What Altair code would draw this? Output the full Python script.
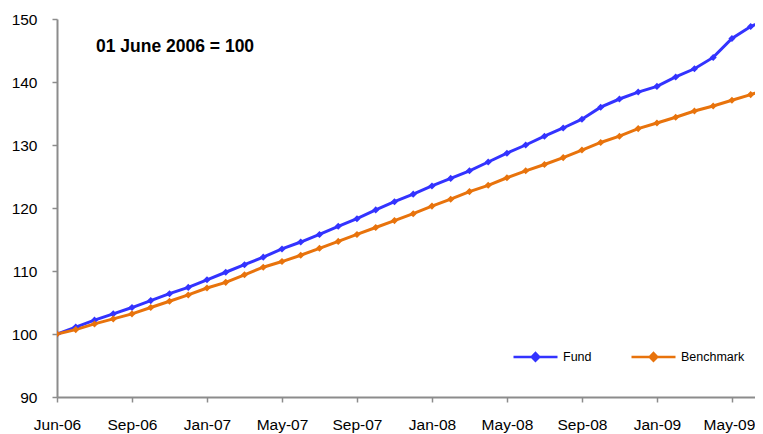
import altair as alt
import pandas as pd

# monthly index points (0 = 01 June 2006)
fund = [100.0, 101.1, 102.2, 103.2, 104.2, 105.3, 106.4, 107.4, 108.6, 109.8,
        111.0, 112.2, 113.5, 114.6, 115.8, 117.1, 118.3, 119.7, 121.0, 122.2,
        123.5, 124.7, 125.9, 127.3, 128.7, 130.0, 131.4, 132.7, 134.1, 136.0,
        137.3, 138.4, 139.3, 140.8, 142.1, 143.9, 146.9, 148.8, 150.1]
benchmark = [100.0, 100.7, 101.6, 102.4, 103.2, 104.2, 105.2, 106.2, 107.3, 108.2,
             109.4, 110.6, 111.5, 112.5, 113.6, 114.7, 115.8, 116.9, 118.0, 119.1,
             120.3, 121.4, 122.6, 123.6, 124.8, 125.9, 126.9, 128.0, 129.2, 130.4,
             131.4, 132.6, 133.5, 134.4, 135.4, 136.2, 137.1, 138.0, 139.0]
tick_labels = ["Jun-06", "Sep-06", "Jan-07", "May-07", "Sep-07",
               "Jan-08", "May-08", "Sep-08", "Jan-09", "May-09"]
series_names = ["Fund", "Benchmark"]
series_colors = ["#3333FF", "#E8730C"]
note = "01 June 2006 = 100"

rows = []
for i, v in enumerate(fund):
    rows.append({"i": i, "value": v, "series": "Fund"})
for i, v in enumerate(benchmark):
    rows.append({"i": i, "value": v, "series": "Benchmark"})
df = pd.DataFrame(rows)

label_arr = "[" + ",".join("'" + t + "'" for t in tick_labels) + "]"
last_tick = 4 * (len(tick_labels) - 1)
FONT = "Liberation Sans"
AX = dict(title=None, grid=False, tickSize=5, labelPadding=15,
          domainColor="#8C8C8C", domainWidth=2, tickColor="#8C8C8C", tickWidth=1.5,
          labelFont=FONT, labelFontSize=15.5, labelColor="#000000")

x = alt.X("i:Q", scale=alt.Scale(domain=[0, 37.23], nice=False, zero=False),
          axis=alt.Axis(values=[4 * k for k in range(len(tick_labels))],
                        labelExpr=label_arr + "[round(datum.value/4)]",
                        labelFlush=False,
                        labelOffset={"condition": {"test": f"datum.value == {last_tick}",
                                                   "value": -3}, "value": 0},
                        **AX))
y = alt.Y("value:Q", scale=alt.Scale(domain=[90, 150], nice=False, zero=False),
          axis=alt.Axis(values=[90, 100, 110, 120, 130, 140, 150], **AX))

legend = alt.Legend(
    title=None, orient="none", direction="horizontal", legendX=455, legendY=314,
    symbolType="M-1,0L1,0M0,-0.17L0.17,0L0,0.17L-0.17,0Z",
    symbolSize=1936, symbolStrokeWidth=2.5, labelOffset=4, columnPadding=34,
    labelFontSize=12.5, labelFont=FONT, labelColor="#000000")

color = alt.Color("series:N", scale=alt.Scale(domain=series_names, range=series_colors),
                  sort=series_names, legend=legend)

base = alt.Chart(df)
lines = base.mark_line(strokeWidth=3, clip=True).encode(x=x, y=y, color=color, detail="series:N")
points = base.mark_point(shape="diamond", filled=True, size=50, opacity=1, clip=True).encode(
    x=x, y=y, color=color)

text = alt.Chart(pd.DataFrame({"t": [note]})).mark_text(
    align="left", baseline="alphabetic", fontSize=17.5, fontWeight="bold",
    font=FONT, color="#000000").encode(x=alt.value(39), y=alt.value(33), text="t:N")

chart = alt.layer(lines, points, text).properties(
    width=698, height=378,
    padding={"left": 49, "top": 11, "right": 0, "bottom": 36},
    autosize=alt.AutoSizeParams(type="none"),
    background="white",
).configure_view(stroke=None)

chart.save("out.html", embed_options={"renderer": "svg", "actions": False})
